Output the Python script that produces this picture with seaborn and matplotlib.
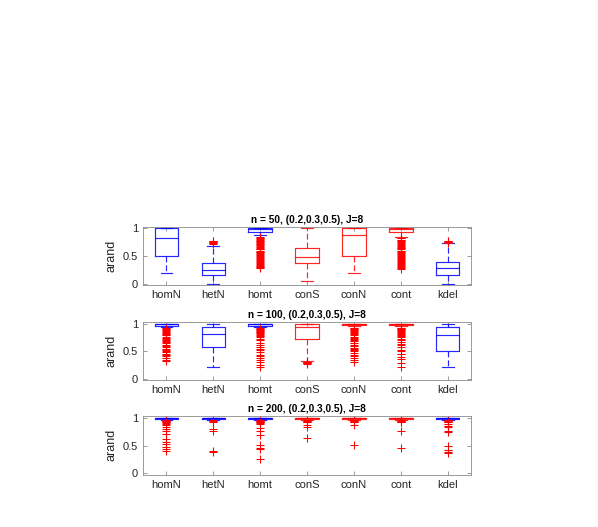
import numpy as np
import pandas as pd
import matplotlib
matplotlib.use("Agg")
import matplotlib.pyplot as plt
import seaborn as sns

plt.rcParams['font.family'] = ['Liberation Sans', 'DejaVu Sans']

methods = ["homN", "hetN", "homt", "conS", "conN", "cont", "kdel"]
method_colors = ["#0000ff", "#0000ff", "#0000ff", "#ff0000", "#ff0000", "#ff0000", "#0000ff"]
titles = ["n = 50, (0.2,0.3,0.5), J=8", "n = 100, (0.2,0.3,0.5), J=8", "n = 200, (0.2,0.3,0.5), J=8"]

# box statistics: lower whisker, q1, median, q3, upper whisker
n50_lo = [0.19, -0.01, 0.88, 0.05, 0.19, 0.89, -0.01]
n50_q1 = [0.51, 0.16, 0.94, 0.37, 0.51, 0.94, 0.16]
n50_med = [0.83, 0.25, 0.99, 0.49, 0.88, 0.99, 0.28]
n50_q3 = [1.00, 0.37, 1.00, 0.64, 1.00, 1.00, 0.39]
n50_hi = [1.00, 0.68, 1.00, 1.00, 1.00, 1.00, 0.69]
n50_out = [
    [],
    [0.72, 0.73, 0.74, 0.75, 0.76, 0.77, 0.78],
    [0.84, 0.83, 0.82, 0.81, 0.80, 0.78, 0.77, 0.75, 0.74, 0.72, 0.71, 0.70, 0.68, 0.66,
     0.65, 0.63, 0.62, 0.60, 0.58, 0.57, 0.55, 0.53, 0.52, 0.50, 0.48, 0.47, 0.45, 0.43,
     0.42, 0.40, 0.38, 0.36, 0.34, 0.33, 0.31, 0.30, 0.28],
    [],
    [],
    [0.86, 0.85, 0.83, 0.82, 0.80, 0.79, 0.77, 0.75, 0.74, 0.72, 0.70, 0.69, 0.67, 0.65,
     0.64, 0.62, 0.60, 0.59, 0.57, 0.55, 0.53, 0.52, 0.50, 0.48, 0.47, 0.45, 0.43, 0.41,
     0.40, 0.38, 0.36, 0.34, 0.33, 0.31, 0.29, 0.27],
    [0.73, 0.74, 0.75, 0.76, 0.77, 0.78],
]

n100_lo = [0.94, 0.21, 0.94, 0.33, 0.96, 0.96, 0.21]
n100_q1 = [0.97, 0.58, 0.97, 0.73, 0.98, 0.98, 0.51]
n100_med = [0.99, 0.81, 0.99, 0.95, 0.995, 0.995, 0.79]
n100_q3 = [1.00, 0.94, 1.00, 1.00, 1.00, 1.00, 0.94]
n100_hi = [1.00, 1.00, 1.00, 1.00, 1.00, 1.00, 1.00]
n100_out = [
    [0.92, 0.91, 0.90, 0.88, 0.87, 0.85, 0.84, 0.82, 0.80, 0.79, 0.77, 0.75, 0.73, 0.71,
     0.69, 0.67, 0.65, 0.62, 0.60, 0.58, 0.55, 0.53, 0.51, 0.49, 0.46, 0.44, 0.41, 0.38,
     0.35, 0.32],
    [],
    [0.92, 0.91, 0.90, 0.89, 0.88, 0.87, 0.86, 0.85, 0.83, 0.82, 0.80, 0.78, 0.76, 0.73,
     0.70, 0.66, 0.61, 0.58, 0.55, 0.52, 0.48, 0.44, 0.41, 0.38, 0.35, 0.30, 0.25, 0.21],
    [0.31, 0.30, 0.30, 0.29, 0.29, 0.28],
    [0.93, 0.92, 0.91, 0.90, 0.88, 0.87, 0.85, 0.83, 0.81, 0.79, 0.77, 0.75, 0.72, 0.70,
     0.68, 0.65, 0.62, 0.60, 0.57, 0.55, 0.52, 0.50, 0.47, 0.44, 0.41, 0.38, 0.35, 0.30],
    [0.93, 0.92, 0.91, 0.90, 0.89, 0.87, 0.86, 0.84, 0.82, 0.80, 0.78, 0.76, 0.73, 0.70,
     0.67, 0.64, 0.62, 0.58, 0.52, 0.50, 0.46, 0.45, 0.40, 0.37, 0.29, 0.21],
    [],
]

n200_lo = [0.98, 0.98, 0.98, 0.98, 0.98, 0.98, 0.98]
n200_q1 = [0.99, 0.99, 0.99, 0.99, 0.99, 0.99, 0.99]
n200_med = [1.00, 1.00, 1.00, 1.00, 1.00, 1.00, 1.00]
n200_q3 = [1.00, 1.00, 1.00, 1.00, 1.00, 1.00, 1.00]
n200_hi = [1.00, 1.00, 1.00, 1.00, 1.00, 1.00, 1.00]
n200_out = [
    [0.97, 0.96, 0.95, 0.94, 0.93, 0.92, 0.90, 0.88, 0.85, 0.80, 0.78, 0.72, 0.62, 0.58,
     0.53, 0.48, 0.44, 0.41],
    [0.97, 0.96, 0.95, 0.94, 0.80, 0.78, 0.41, 0.38],
    [0.97, 0.96, 0.95, 0.94, 0.93, 0.92, 0.90, 0.83, 0.78, 0.70, 0.52, 0.47, 0.44, 0.27],
    [0.97, 0.96, 0.95, 0.94, 0.93, 0.88, 0.84, 0.64],
    [0.97, 0.96, 0.95, 0.94, 0.93, 0.88, 0.52],
    [0.97, 0.96, 0.95, 0.94, 0.93, 0.78, 0.47],
    [0.97, 0.96, 0.95, 0.94, 0.93, 0.90, 0.86, 0.84, 0.78, 0.76, 0.50, 0.42, 0.38, 0.37],
]

panels = [
    (n50_lo, n50_q1, n50_med, n50_q3, n50_hi, n50_out),
    (n100_lo, n100_q1, n100_med, n100_q3, n100_hi, n100_out),
    (n200_lo, n200_q1, n200_med, n200_q3, n200_hi, n200_out),
]
ylims = [(-0.02, 1.02), (-0.025, 1.04), (-0.025, 1.05)]
positions = [
    [0.239, 0.4592, 0.549, 0.1095],
    [0.239, 0.2784, 0.549, 0.1112],
    [0.239, 0.0992, 0.549, 0.1120],
]

BLOCK = 300


def panel_frame(lo, q1, med, q3, hi, out):
    rows = []
    for i, m in enumerate(methods):
        vals = [lo[i]] + [q1[i]] * BLOCK + [med[i]] * BLOCK + [q3[i]] * BLOCK + [hi[i]] + list(out[i])
        rows.extend((m, v) for v in vals)
    return pd.DataFrame(rows, columns=["method", "arand"])


palette = dict(zip(methods, method_colors))
fig = plt.figure(figsize=(5.98, 5.27), dpi=100)
axis_col = "#8a8a8a"

for k, (stats, pos) in enumerate(zip(panels, positions)):
    ax = fig.add_axes(pos)
    df = panel_frame(*stats)
    sns.boxplot(data=df, x="method", y="arand", hue="method", palette=palette,
                order=methods, hue_order=methods, dodge=False, fill=False,
                width=0.5, linewidth=0.85, legend=False, ax=ax,
                flierprops={"marker": "+", "markeredgecolor": "#ff0000",
                            "markersize": 6, "markeredgewidth": 0.75})
    # MATLAB-style: every box element in its box colour, whiskers dashed
    for ln in ax.lines:
        if ln.get_marker() == "+":
            continue
        xd = np.asarray(ln.get_xdata(), dtype=float)
        yd = np.asarray(ln.get_ydata(), dtype=float)
        if xd.size == 0:
            continue
        idx = int(np.clip(np.round(np.mean(xd)), 0, len(methods) - 1))
        ln.set_color(method_colors[idx])
        ln.set_alpha(0.85)
        if xd.size == 2 and np.isclose(xd[0], xd[1]) and not np.isclose(yd[0], yd[1]):
            ln.set_linestyle((0, (5, 2.5)))
    ax.set_xlim(-0.5, 6.5)
    ax.set_ylim(*ylims[k])
    ax.set_yticks([0, 0.5, 1])
    ax.set_yticklabels(["0", "0.5", "1"])
    ax.set_xlabel("")
    ax.set_ylabel("arand", fontsize=9, color="#262626")
    ax.set_title(titles[k], fontsize=7.3, fontweight="bold", pad=3, color="black")
    ax.tick_params(direction="in", top=True, right=True, length=3, width=0.6,
                   labelsize=8, colors=axis_col, labelcolor="#262626")
    for s in ax.spines.values():
        s.set_color(axis_col)
        s.set_linewidth(0.6)

fig.savefig("out.png", dpi=100)
